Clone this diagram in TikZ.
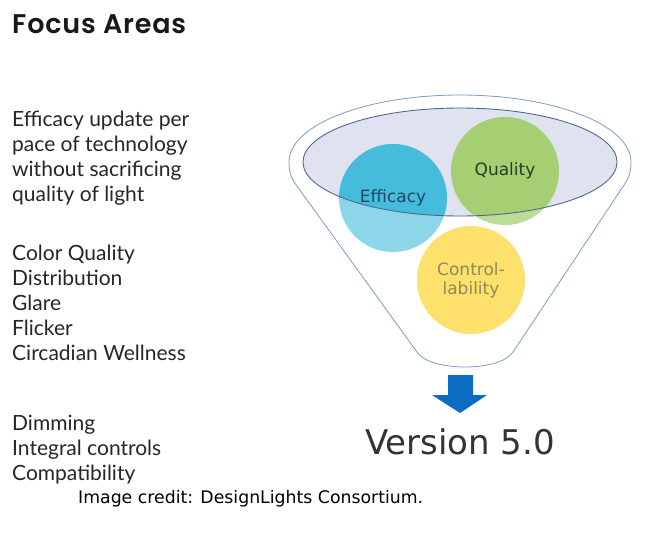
\documentclass[tikz,border=0pt]{standalone}
\usepackage{fontspec}
\setmainfont{Lato}
\newfontfamily\verdana{DejaVu Sans}
\newfontfamily\headfont{Poppins SemiBold}[LetterSpace=3]
\definecolor{funnelline}{HTML}{7C9CC6}
\definecolor{rimfill}{HTML}{DFE3EF}
\definecolor{rimline}{HTML}{4D6B92}
\definecolor{effdark}{HTML}{45BCDC}
\definecolor{efflight}{HTML}{8DD6EA}
\definecolor{efftext}{HTML}{1E4A64}
\definecolor{qualdark}{HTML}{A5CF72}
\definecolor{quallight}{HTML}{BCDC98}
\definecolor{qualtext}{HTML}{2B3B1F}
\definecolor{ctrlfill}{HTML}{FDE16C}
\definecolor{ctrltext}{HTML}{8F8A5A}
\definecolor{arrowblue}{HTML}{0B6CC1}
\tikzset{
    area/.style={anchor=base west, inner sep=0pt, text=black!85, font=\fontsize{21}{25}\selectfont}, % 左侧列表文字
    bubble/.style={inner sep=0pt, align=center, font=\verdana\fontsize{17}{19}\selectfont} % 圆内标签
}

\begin{document}
\begin{tikzpicture}[x=1pt, y=-1pt]
            \useasboundingbox[fill=white] (0,0) rectangle (650,539);

            \node[anchor=base west, inner sep=0pt, text=black!90, font=\headfont\fontsize{27}{30}\selectfont] (title) at (12,33) {Focus Areas};
            \foreach \txt [count=\i] in {Efficacy update per, pace of technology, without sacrificing, quality of light}
                {\node[area] (a\i) at (12, 101+25*\i) {\txt};}
            \foreach \txt [count=\i] in {Color Quality, Distribution, Glare, Flicker, Circadian Wellness}
                {\node[area] (b\i) at (12, 235+25*\i) {\txt};}
            \foreach \txt [count=\i] in {Dimming, Integral controls, Compatibility}
                {\node[area] (c\i) at (12, 405+25*\i) {\txt};}

            % funnel
            \draw[funnelline, line width=0.8pt] (289,162) arc[start angle=180, end angle=360, x radius=171, y radius=67]
                .. controls (631,172) and (629,176) .. (626,182) -- (513,352)
                .. controls (500,372) and (430,372) .. (417,352) -- (294,182)
                .. controls (291,176) and (289,172) .. (289,162);
            \fill[rimfill] (460,162) ellipse [x radius=157, y radius=54];

            \fill[efflight] (393,198) circle [radius=54];
            \fill[quallight] (505,171) circle [radius=54];
            \fill[ctrlfill] (471,280) circle [radius=54];
            \begin{scope}
                \clip (460,162) ellipse [x radius=157, y radius=54];
                \fill[effdark] (393,198) circle [radius=54];
                \fill[qualdark] (505,171) circle [radius=54];
            \end{scope}
            \draw[rimline, line width=0.9pt] (460,162) ellipse [x radius=157, y radius=54];

            \node[bubble, text=efftext] (eff) at (393,198) {Efficacy};
            \node[bubble, text=qualtext] (qual) at (505,171) {Quality};
            \node[bubble, text=ctrltext] (ctrl) at (471,280) {Control-\\lability};

            \fill[arrowblue] (448,375) -- (473,375) -- (473,395) -- (487,395) -- (460,413) -- (432,395) -- (448,395) -- cycle;
            \node[anchor=base, inner sep=0pt, text=black!80, font=\verdana\fontsize{34}{40}\selectfont] (version) at (460,454) {Version 5.0};
            \node[anchor=base west, inner sep=0pt, font=\verdana\fontsize{17.3}{19}\selectfont] (credit) at (78,503) {Image credit: DesignLights Consortium.};
        \end{tikzpicture}
\end{document}
